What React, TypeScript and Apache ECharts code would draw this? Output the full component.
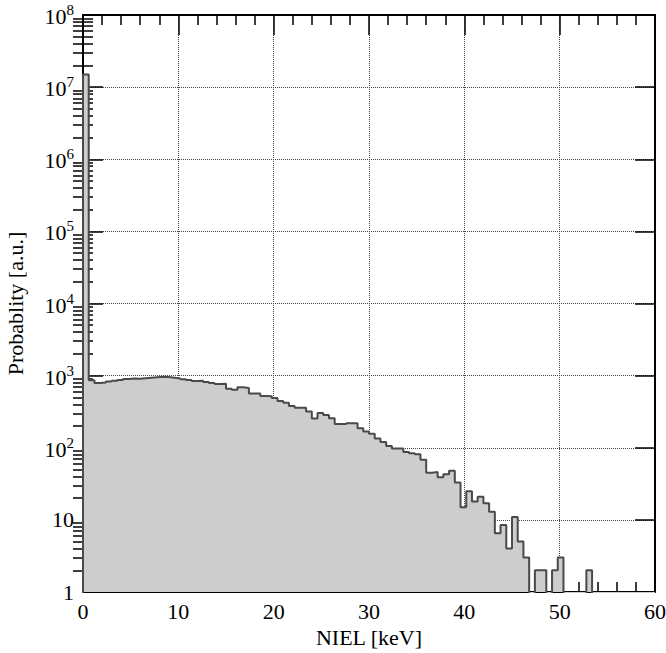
import React, { useEffect, useRef } from "react";
import * as echarts from "echarts";

// Histogram of NIEL, bin width 0.6 keV, 100 bins from 0 to 60 keV
const BIN_WIDTH = 0.6;
const counts: number[] = [
  1.5e7, 860, 790, 800, 830, 850, 870, 900, 910, 905,
  920, 935, 950, 965, 955, 935, 915, 890, 870, 845,
  850, 817, 791, 766, 774, 660, 639, 688, 675, 565,
  565, 522, 516, 490, 445, 420, 380, 360, 360, 319,
  255, 303, 285, 256, 213, 213, 218, 218, 186, 168,
  156, 134, 120, 106, 98, 98, 87, 84, 81, 68,
  45, 46, 39, 43, 48, 33, 15, 25, 18, 21,
  17, 13, 6.5, 8.5, 4, 11, 5, 3, 0, 2,
  2, 0, 2, 3, 0, 0, 0, 0, 2, 0,
  0, 0, 0, 0, 0, 0, 0, 0, 0, 0,
];
const xTicks = [0, 10, 20, 30, 40, 50, 60];
const yDecades = [1, 10, 1e2, 1e3, 1e4, 1e5, 1e6, 1e7, 1e8];

const FONT = "Liberation Serif";

export default function App() {
  const ref = useRef<HTMLDivElement>(null);
  useEffect(() => {
    if (!ref.current) return;
    const chart = echarts.init(ref.current, null, { renderer: "svg" });

    const data: number[][] = [[0, 0.5]];
    counts.forEach((c, i) => data.push([i * BIN_WIDTH, c > 0 ? c : 0.5]));
    data.push([counts.length * BIN_WIDTH, counts[counts.length - 1] > 0 ? counts[counts.length - 1] : 0.5]);

    const minorY: number[] = [];
    for (let k = 0; k < yDecades.length - 1; k++) {
      for (let m = 2; m <= 9; m++) minorY.push(m * yDecades[k]);
    }

    const labelFmt = (v: number) => {
      const p = Math.round(Math.log10(v));
      if (p === 0) return "1";
      if (p === 1) return "10";
      return "{b|10}{s|" + p + "}";
    };

    const blk = "#000";
    const xBase = {
      type: "value",
      min: xTicks[0],
      max: xTicks[xTicks.length - 1],
      interval: 10,
      axisLine: { show: true, onZero: false, lineStyle: { color: blk, width: 2 } },
      axisTick: { show: true, inside: true, length: 20, lineStyle: { color: blk, width: 1.5 } },
      minorTick: { show: true, splitNumber: 5, length: 10, lineStyle: { color: blk, width: 1.5 } },
    };
    const yMajor = {
      type: "log",
      logBase: 10,
      min: 1,
      max: 1e8,
      splitNumber: 8,
      axisLine: { show: true, onZero: false, lineStyle: { color: blk, width: 2 } },
      axisTick: { show: true, inside: true, length: 20, lineStyle: { color: blk, width: 1.5 } },
      minorTick: { show: false },
    };
    const yMinor = {
      type: "log",
      logBase: 10,
      min: 1,
      max: 1e8,
      splitNumber: 8,
      axisLine: { show: false },
      axisTick: { show: true, inside: true, length: 10, customValues: minorY, lineStyle: { color: blk, width: 1.5 } },
      axisLabel: { show: false },
      splitLine: { show: false },
    };

    chart.setOption({
      animation: false,
      backgroundColor: "#fff",
      grid: { left: 83, right: 11, top: 15, bottom: 61, containLabel: false, outerBoundsMode: "none" },
      xAxis: [
        {
          ...xBase,
          position: "bottom",
          name: "NIEL [keV]",
          nameLocation: "middle",
          nameGap: 32,
          nameTextStyle: { fontFamily: FONT, fontSize: 22, color: blk },
          axisLabel: { show: true, fontFamily: FONT, fontSize: 22, color: blk, margin: 8 },
          splitLine: { show: true, lineStyle: { type: "dotted", color: "#444", width: 1 } },
        },
        {
          ...xBase,
          position: "top",
          axisLabel: { show: false },
          splitLine: { show: false },
        },
      ],
      yAxis: [
        {
          ...yMajor,
          position: "left",
          name: "Probablity [a.u.]",
          nameLocation: "middle",
          nameGap: 57,
          nameTextStyle: { fontFamily: FONT, fontSize: 22, color: blk },
          axisLabel: {
            show: true,
            margin: 9,
            fontFamily: FONT,
            fontSize: 22,
            color: blk,
            formatter: labelFmt,
            rich: {
              b: { fontFamily: FONT, fontSize: 22, color: blk, verticalAlign: "bottom" },
              s: { fontFamily: FONT, fontSize: 15, color: blk, verticalAlign: "top", padding: [0, 0, 10, 0] },
            },
          },
          splitLine: { show: true, lineStyle: { type: "dotted", color: "#444", width: 1 } },
        },
        { ...yMinor, position: "left" },
        { ...yMajor, position: "right", axisLabel: { show: false }, splitLine: { show: false } },
        { ...yMinor, position: "right" },
      ],
      series: [
        {
          type: "line",
          xAxisIndex: 0,
          yAxisIndex: 0,
          step: "end",
          data,
          symbol: "none",
          clip: true,
          lineStyle: { color: "#4a4a4a", width: 2 },
          areaStyle: { color: "#cdcdcd", opacity: 1, origin: "start" },
        },
      ],
    });
    return () => chart.dispose();
  }, []);
  return (
    <div
      ref={ref}
      style={{ position: "fixed", left: 0, top: 0, width: 666, height: 653 }}
    />
  );
}
